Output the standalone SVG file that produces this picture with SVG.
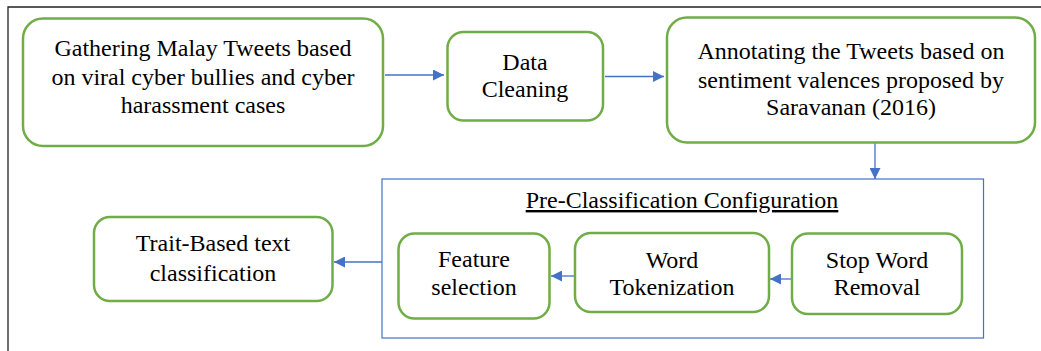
<svg xmlns="http://www.w3.org/2000/svg" width="1041" height="351" viewBox="0 0 1041 351">
<defs>
<style>
.n{fill:#fff;stroke:#70AD47;stroke-width:2.5}
.t{font-family:"Liberation Serif","Times New Roman","DejaVu Serif",serif;font-size:24px;fill:#000;text-anchor:middle}
.c{stroke:#4472C4;stroke-width:1.3;fill:none}
</style>
<marker id="ah" viewBox="0 0 10 10" refX="10" refY="5" markerWidth="11" markerHeight="11" markerUnits="userSpaceOnUse" orient="auto">
<path d="M0,0 L10,5 L0,10 Z" fill="#4472C4"/>
</marker>
</defs>
<rect width="1041" height="351" fill="#fff"/>
<g id="frame">
<path d="M8,351 V7 H1041" fill="none" stroke="#222" stroke-width="1.3"/>
</g>
<g id="container">
<rect x="382" y="179" width="601.5" height="159" fill="none" stroke="#4472C4" stroke-width="1.2"/>
<text class="t" x="682" y="208" text-decoration="underline">Pre-Classification Configuration</text>
</g>
<g id="connectors">
<path class="c" d="M385,75 H444" marker-end="url(#ah)"/>
<path class="c" d="M605,76.5 H664" marker-end="url(#ah)"/>
<path class="c" d="M875,143 V179" marker-end="url(#ah)"/>
<path class="c" d="M382,262 H334" marker-end="url(#ah)"/>
<path class="c" d="M575,276 H551" marker-end="url(#ah)"/>
<path class="c" d="M792,279 H770" marker-end="url(#ah)"/>
</g>
<g id="gather">
<rect class="n" x="23" y="18.5" width="360" height="127.5" rx="20"/>
<text class="t" x="203" y="56">Gathering Malay Tweets based</text>
<text class="t" x="203" y="85">on viral cyber bullies and cyber</text>
<text class="t" x="203" y="113">harassment cases</text>
</g>
<g id="clean">
<rect class="n" x="447.5" y="32" width="155.5" height="88.5" rx="16"/>
<text class="t" x="525" y="70">Data</text>
<text class="t" x="525" y="97">Cleaning</text>
</g>
<g id="annotate">
<rect class="n" x="667" y="17.5" width="368" height="125" rx="20"/>
<text class="t" x="851" y="59">Annotating the Tweets based on</text>
<text class="t" x="851" y="88">sentiment valences proposed by</text>
<text class="t" x="851" y="115">Saravanan (2016)</text>
</g>
<g id="trait">
<rect class="n" x="94" y="217" width="238.5" height="84" rx="16"/>
<text class="t" x="213" y="251">Trait-Based text</text>
<text class="t" x="213" y="281">classification</text>
</g>
<g id="feature">
<rect class="n" x="398.5" y="233.5" width="151" height="85" rx="16"/>
<text class="t" x="474" y="267">Feature</text>
<text class="t" x="474" y="295">selection</text>
</g>
<g id="token">
<rect class="n" x="575" y="233" width="194" height="79" rx="16"/>
<text class="t" x="672" y="268">Word</text>
<text class="t" x="672" y="295">Tokenization</text>
</g>
<g id="stop">
<rect class="n" x="792" y="233.5" width="170" height="80.5" rx="16"/>
<text class="t" x="877" y="268">Stop Word</text>
<text class="t" x="877" y="295">Removal</text>
</g>
</svg>
